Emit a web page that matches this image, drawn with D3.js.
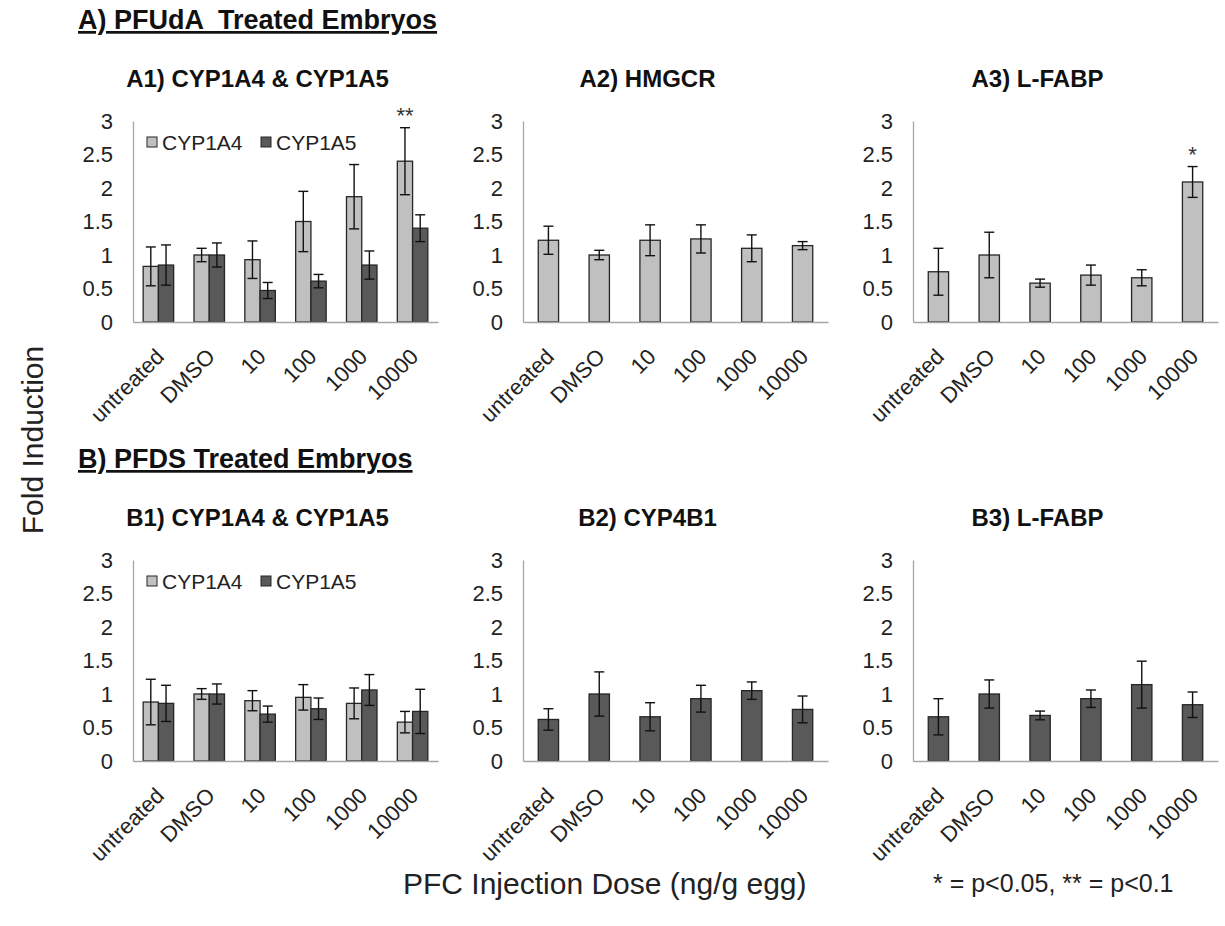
<!DOCTYPE html>
<html>
<head>
<meta charset="utf-8">
<script src="https://cdn.jsdelivr.net/npm/d3@7"></script>
<style>
  html, body { margin: 0; padding: 0; background: #fff; }
  svg { display: block; font-family: "Liberation Sans", Arial, sans-serif; }
</style>
</head>
<body>
<svg id="chart" width="1225" height="926"></svg>
<script>
// Dose groups on every x axis
const categories = ["untreated", "DMSO", "10", "100", "1000", "10000"];
const yTicks = [0, 0.5, 1, 1.5, 2, 2.5, 3];

// A) PFUdA treated embryos
const a1Cyp1a4 = [0.83, 1.0, 0.93, 1.5, 1.87, 2.4];
const a1Cyp1a4Err = [0.29, 0.1, 0.28, 0.45, 0.48, 0.5];
const a1Cyp1a5 = [0.85, 1.0, 0.47, 0.61, 0.85, 1.4];
const a1Cyp1a5Err = [0.3, 0.18, 0.12, 0.1, 0.21, 0.2];
const a2Hmgcr = [1.22, 1.0, 1.22, 1.24, 1.1, 1.14];
const a2HmgcrErr = [0.21, 0.07, 0.23, 0.21, 0.2, 0.06];
const a3Lfabp = [0.75, 1.0, 0.58, 0.7, 0.66, 2.09];
const a3LfabpErr = [0.35, 0.34, 0.06, 0.15, 0.12, 0.23];

// B) PFDS treated embryos
const b1Cyp1a4 = [0.88, 1.0, 0.9, 0.95, 0.86, 0.58];
const b1Cyp1a4Err = [0.34, 0.08, 0.15, 0.19, 0.23, 0.16];
const b1Cyp1a5 = [0.86, 1.0, 0.7, 0.78, 1.06, 0.74];
const b1Cyp1a5Err = [0.27, 0.15, 0.12, 0.16, 0.23, 0.33];
const b2Cyp4b1 = [0.62, 1.0, 0.66, 0.93, 1.05, 0.77];
const b2Cyp4b1Err = [0.16, 0.33, 0.21, 0.2, 0.13, 0.2];
const b3Lfabp = [0.66, 1.0, 0.68, 0.93, 1.14, 0.84];
const b3LfabpErr = [0.27, 0.21, 0.065, 0.13, 0.35, 0.19];

const LIGHT = "#c0c0c0", DARK = "#595959";
const FONT = '"Liberation Sans", Arial, sans-serif';

const svg = d3.select("#chart");

// Panel definitions: series, optional legend and significance marks
const panels = [
  { col: 0, row: 0, title: "A1) CYP1A4 & CYP1A5", legend: true,
    series: [{ name: "CYP1A4", color: LIGHT, values: a1Cyp1a4, err: a1Cyp1a4Err },
             { name: "CYP1A5", color: DARK, values: a1Cyp1a5, err: a1Cyp1a5Err }],
    marks: [{ series: 0, cat: "10000", text: "**" }] },
  { col: 1, row: 0, title: "A2) HMGCR",
    series: [{ name: "HMGCR", color: LIGHT, values: a2Hmgcr, err: a2HmgcrErr }], marks: [] },
  { col: 2, row: 0, title: "A3) L-FABP",
    series: [{ name: "L-FABP", color: LIGHT, values: a3Lfabp, err: a3LfabpErr }],
    marks: [{ series: 0, cat: "10000", text: "*" }] },
  { col: 0, row: 1, title: "B1) CYP1A4 & CYP1A5", legend: true,
    series: [{ name: "CYP1A4", color: LIGHT, values: b1Cyp1a4, err: b1Cyp1a4Err },
             { name: "CYP1A5", color: DARK, values: b1Cyp1a5, err: b1Cyp1a5Err }], marks: [] },
  { col: 1, row: 1, title: "B2) CYP4B1",
    series: [{ name: "CYP4B1", color: DARK, values: b2Cyp4b1, err: b2Cyp4b1Err }], marks: [] },
  { col: 2, row: 1, title: "B3) L-FABP",
    series: [{ name: "L-FABP", color: DARK, values: b3Lfabp, err: b3LfabpErr }], marks: [] }
];

const colX = [133, 523, 913];
const plotW = 305;
const rows = [{ top: 121, bottom: 322 }, { top: 560, bottom: 761 }];

panels.forEach(p => {
  const r = rows[p.row];
  const g = svg.append("g").attr("transform", `translate(${colX[p.col]},0)`);

  const x = d3.scaleBand().domain(categories).range([0, plotW]);
  const y = d3.scaleLinear().domain([0, 3]).range([r.bottom, r.top]);
  const bw = x.bandwidth();
  const inner = d3.scaleBand().domain(d3.range(p.series.length))
    .range(p.series.length > 1 ? [bw * 0.2, bw * 0.8] : [bw * 0.3, bw * 0.7]);

  // title
  g.append("text")
    .attr("x", plotW / 2 - 28).attr("y", r.top - 34)
    .attr("text-anchor", "middle")
    .style("font-size", "24px").style("font-weight", "bold").style("fill", "#111")
    .text(p.title);

  // y axis
  const ya = g.append("g")
    .call(d3.axisLeft(y).tickValues(yTicks).tickSize(0).tickSizeOuter(0).tickPadding(20)
      .tickFormat(d => String(d)));
  ya.select(".domain").attr("stroke", "#a6a6a6").attr("stroke-width", 1.3);
  ya.selectAll("text").style("font-family", FONT).style("font-size", "22px").style("fill", "#222");

  // bars
  p.series.forEach((s, si) => {
    const rows2 = categories.map((c, i) => ({ c, v: s.values[i], e: s.err[i] }));
    g.selectAll(null).data(rows2).enter().append("rect")
      .attr("x", d => x(d.c) + inner(si))
      .attr("width", inner.bandwidth())
      .attr("y", d => y(d.v))
      .attr("height", d => y(0) - y(d.v))
      .attr("fill", s.color).attr("stroke", "#262626").attr("stroke-width", 1.3);

    const cx = d => x(d.c) + inner(si) + inner.bandwidth() / 2;
    const eb = g.selectAll(null).data(rows2).enter().append("g")
      .attr("stroke", "#111").attr("stroke-width", 1.4);
    eb.append("line").attr("x1", cx).attr("x2", cx)
      .attr("y1", d => y(d.v + d.e)).attr("y2", d => y(d.v - d.e));
    eb.append("line").attr("x1", d => cx(d) - 5).attr("x2", d => cx(d) + 5)
      .attr("y1", d => y(d.v + d.e)).attr("y2", d => y(d.v + d.e));
    eb.append("line").attr("x1", d => cx(d) - 5).attr("x2", d => cx(d) + 5)
      .attr("y1", d => y(d.v - d.e)).attr("y2", d => y(d.v - d.e));
  });

  // significance marks
  p.marks.forEach(m => {
    const s = p.series[m.series];
    const i = categories.indexOf(m.cat);
    g.append("text")
      .attr("x", x(m.cat) + inner(m.series) + inner.bandwidth() / 2)
      .attr("y", y(s.values[i] + s.err[i]))
      .attr("dy", "-0.2em")
      .attr("text-anchor", "middle")
      .style("font-size", "22px").style("fill", "#333")
      .text(m.text);
  });

  // x axis
  const xa = g.append("g").attr("transform", `translate(0,${r.bottom})`)
    .call(d3.axisBottom(x).tickSize(0).tickSizeOuter(0).tickPadding(0));
  xa.select(".domain").attr("stroke", "#a6a6a6").attr("stroke-width", 1.3);
  xa.selectAll("text")
    .style("font-family", FONT).style("font-size", "22px").style("fill", "#222")
    .attr("text-anchor", "end")
    .attr("dy", 0).attr("y", 0)
    .attr("transform", "translate(7,36) rotate(-45)");

  // legend
  if (p.legend) {
    const lg = g.append("g").attr("transform", `translate(14,${r.top + 16})`);
    const offs = [0, 114];
    p.series.forEach((s, si) => {
      lg.append("rect").attr("x", offs[si]).attr("y", 0).attr("width", 10).attr("height", 10)
        .attr("fill", s.color).attr("stroke", "#262626").attr("stroke-width", 1);
      lg.append("text").attr("x", offs[si] + 15).attr("y", 5).attr("dy", "0.36em")
        .style("font-size", "21px").style("fill", "#222").text(s.name);
    });
  }
});

// section headers
[{ text: "A) PFUdA  Treated Embryos", y: 29 }, { text: "B) PFDS Treated Embryos", y: 468 }].forEach(h => {
  svg.append("text").attr("x", 78).attr("y", h.y)
    .style("font-size", "27px").style("font-weight", "bold").style("fill", "#111")
    .style("text-decoration", "underline").style("white-space", "pre")
    .attr("xml:space", "preserve")
    .text(h.text);
});

// axis titles and note
svg.append("text")
  .attr("transform", "translate(43,440) rotate(-90)")
  .attr("text-anchor", "middle")
  .style("font-size", "30px").style("fill", "#222")
  .text("Fold Induction");

svg.append("text").attr("x", 403).attr("y", 894)
  .style("font-size", "30px").style("fill", "#222")
  .text("PFC Injection Dose (ng/g egg)");

svg.append("text").attr("x", 933).attr("y", 892)
  .style("font-size", "25px").style("fill", "#222")
  .text("* = p<0.05, ** = p<0.1");
</script>
</body>
</html>
